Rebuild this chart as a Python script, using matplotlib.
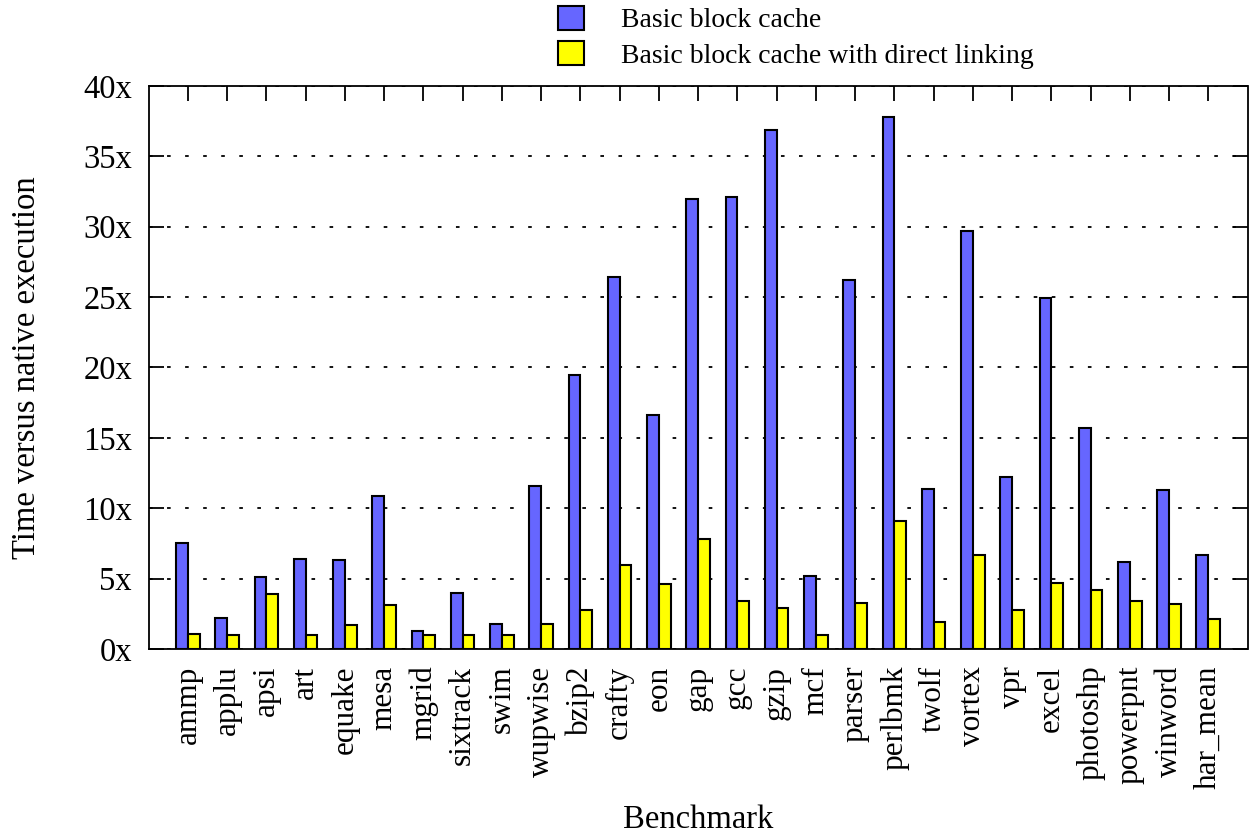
import numpy as np
import matplotlib.pyplot as plt

benchmarks = ["ammp", "applu", "apsi", "art", "equake", "mesa", "mgrid", "sixtrack", "swim",
              "wupwise", "bzip2", "crafty", "eon", "gap", "gcc", "gzip", "mcf", "parser",
              "perlbmk", "twolf", "vortex", "vpr", "excel", "photoshp", "powerpnt", "winword",
              "har_mean"]
bb_cache = [7.5, 2.2, 5.1, 6.4, 6.3, 10.9, 1.3, 4.0, 1.8, 11.6, 19.5, 26.4, 16.6, 32.0, 32.1,
            36.9, 5.2, 26.2, 37.8, 11.4, 29.7, 12.2, 24.9, 15.7, 6.2, 11.3, 6.7]
bb_linking = [1.1, 1.0, 3.9, 1.0, 1.7, 3.1, 1.0, 1.0, 1.0, 1.8, 2.8, 6.0, 4.6, 7.8, 3.4,
              2.9, 1.0, 3.3, 9.1, 1.9, 6.7, 2.8, 4.7, 4.2, 3.4, 3.2, 2.1]
yticks = [0, 5, 10, 15, 20, 25, 30, 35, 40]

plt.rcParams['font.family'] = ['Liberation Serif', 'DejaVu Serif']

fig = plt.figure(figsize=(12.5, 8.38), dpi=100)
ax = fig.add_axes([0.119, 0.2255, 0.879, 0.672])

x = np.arange(len(benchmarks))
w = 0.3
b1 = ax.bar(x - w/2, bb_cache, w, color='#6666ff', edgecolor='black', linewidth=1.5,
            label='Basic block cache', zorder=3)
b2 = ax.bar(x + w/2, bb_linking, w, color='#ffff00', edgecolor='black', linewidth=1.5,
            label='Basic block cache with direct linking', zorder=3)

ax.set_xlim(-1, len(benchmarks))
ax.set_ylim(0, 40)
ax.set_yticks(yticks)
ax.set_yticklabels([f"{v}x" for v in yticks], fontsize=23.5)
ax.set_xticks(x)
ax.set_xticklabels(benchmarks, rotation=90, fontsize=22.5)
ax.tick_params(axis='both', direction='in', length=10.5, width=1.3, top=True, right=True, pad=12)
ax.grid(axis='y', color='black', linestyle=(0, (2, 8)), linewidth=1.3, zorder=0)
for s in ax.spines.values():
    s.set_linewidth(1.3)

ax.set_ylabel("Time versus native execution", fontsize=23.5)
ax.yaxis.set_label_coords(-0.0974, 0.5)
ax.set_xlabel("Benchmark", fontsize=23.5)
ax.xaxis.set_label_coords(0.5, -0.2753)

fig.legend(handles=[b1, b2], loc='upper left', bbox_to_anchor=(0.426, 1.023), frameon=False,
           fontsize=20, handlelength=0.95, handleheight=0.95, handletextpad=1.35, labelspacing=0.28)

fig.savefig("out.png", dpi=100)
